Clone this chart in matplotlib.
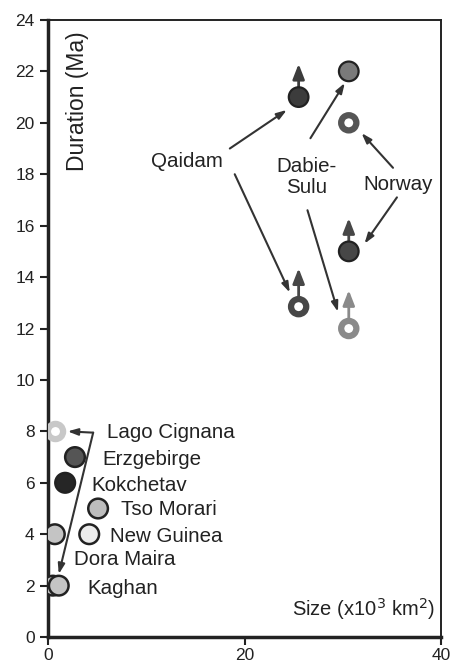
import numpy as np
import matplotlib.pyplot as plt

plt.rcParams['font.family'] = ['Liberation Sans', 'DejaVu Sans']

# lower-left cluster (filled circles)
low_names = ['Erzgebirge', 'Kokchetav', 'Tso Morari', 'New Guinea', 'Dora Maira', 'Kaghan', 'Kaghan']
low_size = [2.75, 1.75, 5.1, 4.2, 0.7, 0.5, 1.1]
low_dur = [7.0, 6.0, 5.0, 4.0, 4.0, 2.0, 2.0]
low_face = ['#555555', '#262626', '#bdbdbd', '#ececec', '#c4c4c4', '#c4c4c4', '#c4c4c4']

# Lago Cignana (open ring)
lago_size = [0.7]
lago_dur = [8.0]

# upper-right cluster
filled_size = [25.5, 30.6, 30.6]
filled_dur = [21.0, 22.0, 15.0]
filled_face = ['#3c3c3c', '#7a7a7a', '#474747']
filled_minimum = [True, False, True]

ring_size = [25.5, 30.6, 30.6]
ring_dur = [12.85, 20.0, 12.0]
ring_edge = ['#474747', '#555555', '#8a8a8a']
ring_minimum = [True, False, True]

# text labels
label_text = ['Lago Cignana', 'Erzgebirge', 'Kokchetav', 'Tso Morari', 'New Guinea', 'Dora Maira', 'Kaghan']
label_x = [6.0, 5.5, 4.4, 7.4, 6.3, 2.6, 4.0]
label_y = [7.95, 6.9, 5.9, 4.95, 3.93, 3.0, 1.9]

fig = plt.figure(figsize=(4.61, 6.65), dpi=100)
ax = fig.add_axes([0.104, 0.042, 0.853, 0.928])
ax.set_xlim(0, 40)
ax.set_ylim(0, 24)
ax.set_xticks([0, 20, 40])
ax.set_yticks(np.arange(0, 25, 2))
ax.tick_params(direction='out', length=6, width=1.5, labelsize=12.5, colors='#222222')
ax.tick_params(axis='x', pad=2)
for side in ['left', 'bottom']:
    ax.spines[side].set_linewidth(2.5)
for side in ['top', 'right']:
    ax.spines[side].set_linewidth(1.4)
for s in ax.spines.values():
    s.set_color('#222222')

# minimum-duration arrows (pointing up)
for x, y, c, m in zip(filled_size, filled_dur, filled_face, filled_minimum):
    if m:
        ax.annotate('', xy=(x, y + 1.4), xytext=(x, y), zorder=2,
                    arrowprops=dict(arrowstyle='-|>,head_length=0.9,head_width=0.35', color=c, lw=2))
for x, y, c, m in zip(ring_size, ring_dur, ring_edge, ring_minimum):
    if m:
        ax.annotate('', xy=(x, y + 1.6), xytext=(x, y), zorder=2,
                    arrowprops=dict(arrowstyle='-|>,head_length=0.9,head_width=0.35', color=c, lw=2))

ax.scatter(low_size, low_dur, s=200, c=low_face, edgecolors='#222222', linewidths=1.8, zorder=4)
ax.scatter(lago_size, lago_dur, s=120, c='white', edgecolors='#c8c8c8', linewidths=4.5, zorder=4)
ax.scatter(filled_size, filled_dur, s=200, c=filled_face, edgecolors='#222222', linewidths=1.6, zorder=4)
ax.scatter(ring_size, ring_dur, s=120, c='white', edgecolors=ring_edge, linewidths=4.5, zorder=4)

for t, x, y in zip(label_text, label_x, label_y):
    ax.text(x, y, t, fontsize=14.8, ha='left', va='center', color='#222222')

ax.text(14.1, 18.5, 'Qaidam', fontsize=14.8, ha='center', va='center', color='#222222')
ax.text(26.3, 17.9, 'Dabie-\nSulu', fontsize=14.8, ha='center', va='center', color='#222222',
        linespacing=1.15)
ax.text(35.6, 17.6, 'Norway', fontsize=14.8, ha='center', va='center', color='#222222')

arrow_kw = dict(arrowstyle='-|>,head_length=0.6,head_width=0.2', color='#333333', lw=1.5,
                shrinkA=0, shrinkB=0)
# (start, end) pairs for label arrows
pointer_from = [(18.5, 19.0), (19.0, 18.0), (26.7, 19.4), (26.4, 16.6), (35.1, 18.25), (35.5, 17.1)]
pointer_to = [(24.3, 20.5), (24.6, 13.4), (30.2, 21.55), (29.5, 12.65), (31.9, 19.6), (32.2, 15.3)]
for a, b in zip(pointer_from, pointer_to):
    ax.annotate('', xy=b, xytext=a, arrowprops=arrow_kw, zorder=3)

# Lago Cignana bracket arrow
ax.annotate('', xy=(2.0, 8.0), xytext=(4.6, 7.95), arrowprops=arrow_kw, zorder=3)
ax.annotate('', xy=(1.1, 2.45), xytext=(4.6, 7.95), arrowprops=arrow_kw, zorder=3)

ax.text(3.0, 20.85, 'Duration (Ma)', rotation=90, fontsize=16.5, ha='center', va='center', color='#222222')
ax.text(39.4, 1.1, 'Size (x10$^3$ km$^2$)', fontsize=14.5, ha='right', va='center', color='#222222')

plt.savefig('out.png', dpi=100)
